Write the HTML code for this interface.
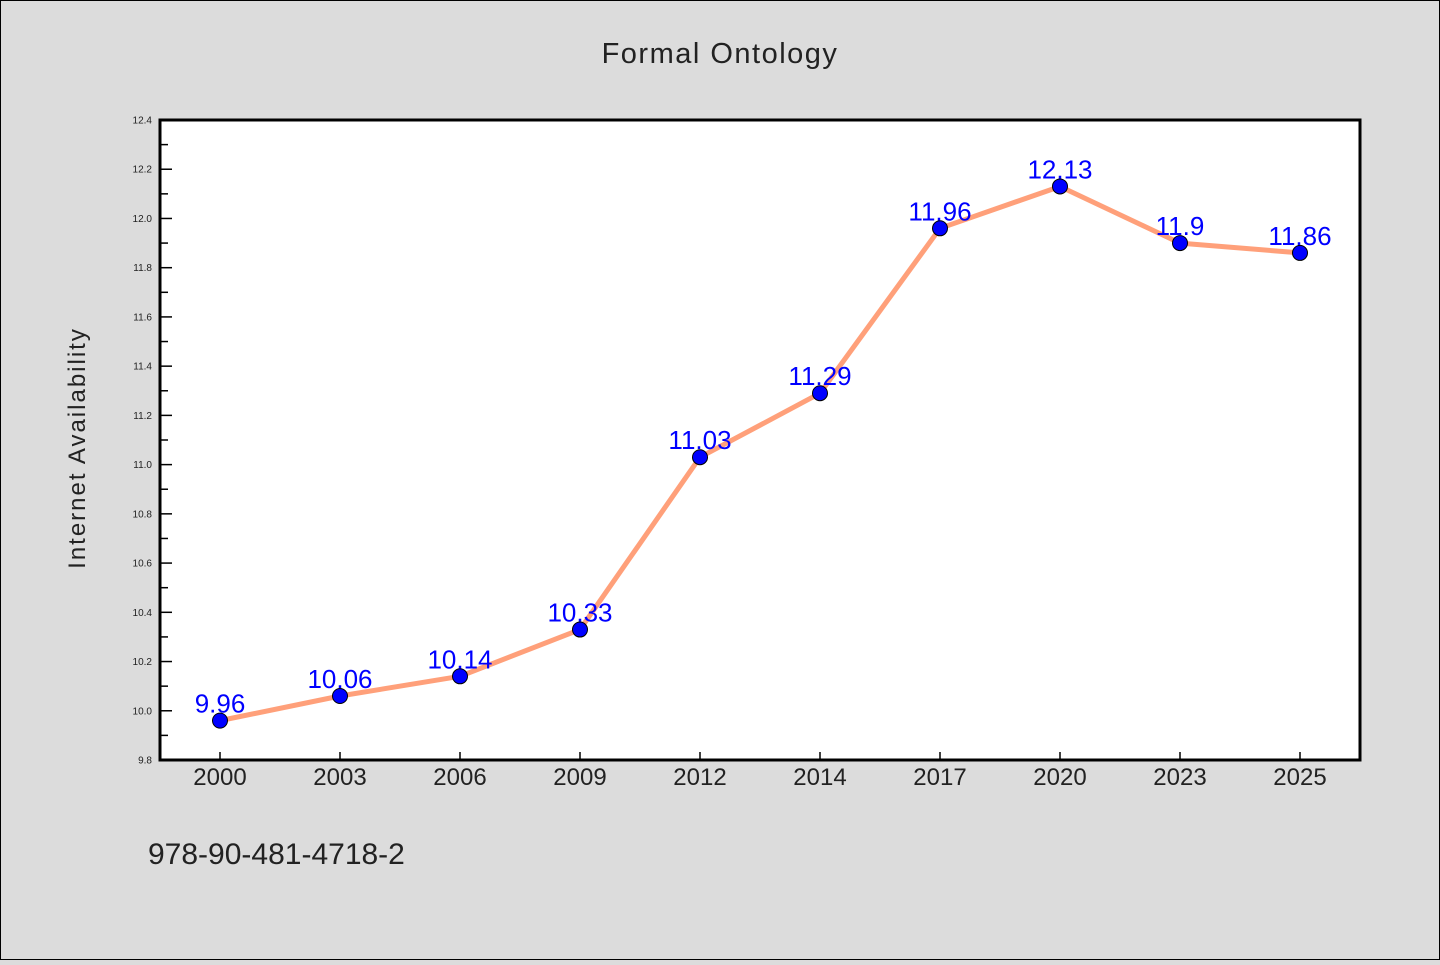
<!DOCTYPE html>
<html><head><meta charset="utf-8"><style>
body{margin:0;background:#dcdcdc;}
svg text{font-family:"WenQuanYi Zen Hei","Liberation Sans",sans-serif;}
</style></head><body>
<svg width="1440" height="960" viewBox="0 0 1440 960" id="c">
<rect x="0.5" y="0.5" width="1439" height="959" fill="#dcdcdc" stroke="#000"/>
<text x="720" y="63" text-anchor="middle" font-size="29" fill="#222" letter-spacing="1.5">Formal Ontology</text>
<text transform="translate(85,448) rotate(-90)" text-anchor="middle" font-size="24" fill="#222" letter-spacing="2">Internet Availability</text>
<text x="148" y="864" font-size="30" fill="#222">978-90-481-4718-2</text>
<rect x="160" y="120" width="1200" height="640" fill="#fff"/>
<g id="ticks"></g>
<g id="series"></g>
<rect x="160" y="120" width="1200" height="640" fill="none" stroke="#000" stroke-width="3"/>
</svg>
<script>
const categories=["2000","2003","2006","2009","2012","2014","2017","2020","2023","2025"];
const values=[9.96,10.06,10.14,10.33,11.03,11.29,11.96,12.13,11.9,11.86];
const yTicks=["9.8","10.0","10.2","10.4","10.6","10.8","11.0","11.2","11.4","11.6","11.8","12.0","12.2","12.4"];
const yMin=9.8,yMax=12.4;
const NS="http://www.w3.org/2000/svg";
const L=160,T=120,W=1200,H=640;
const xs=i=>L+W/categories.length*(i+0.5);
const ys=v=>T+H-(v-yMin)/(yMax-yMin)*H;
function mk(tag,attrs,parent){const e=document.createElementNS(NS,tag);for(const k in attrs)e.setAttribute(k,attrs[k]);parent.appendChild(e);return e;}
const tg=document.getElementById('ticks'),sg=document.getElementById('series');
yTicks.forEach((t,i)=>{const y=ys(+t);
 const ln=mk('line',{x1:L,x2:L+12,y1:y,y2:y,stroke:'#000','stroke-width':1.5},tg);
 
 
 const tx=mk('text',{x:152,y:y+3.5,'text-anchor':'end','font-size':10,fill:'#222'},tg);tx.textContent=t;
 
 
 if(i<yTicks.length-1){const ym=ys(+t+0.1);
  const m=mk('line',{x1:L,x2:L+8,y1:ym,y2:ym,stroke:'#000','stroke-width':1.5},tg);
  
  }
});
categories.forEach((c,i)=>{const x=xs(i);
 const ln=mk('line',{x1:x,x2:x,y1:T+H,y2:T+H-8,stroke:'#000','stroke-width':1.5},tg);
 
 
 const tx=mk('text',{x:x,y:785,'text-anchor':'middle','font-size':24,fill:'#222'},tg);tx.textContent=c;
 
 
});
const pl=mk('polyline',{points:values.map((v,i)=>xs(i)+','+ys(v)).join(' '),fill:'none',stroke:'#ffa07a','stroke-width':5,'stroke-linejoin':'round'},sg);


values.forEach((v,i)=>{
 const p=mk('circle',{cx:xs(i),cy:ys(v),r:7.5,fill:'#0000ff',stroke:'#000','stroke-width':1},sg);
 
 
 const t=mk('text',{x:xs(i),y:ys(v)-8,'text-anchor':'middle','font-size':26,fill:'#0000ff'},sg);t.textContent=String(v);
 
 
});
</script>
</body></html>
